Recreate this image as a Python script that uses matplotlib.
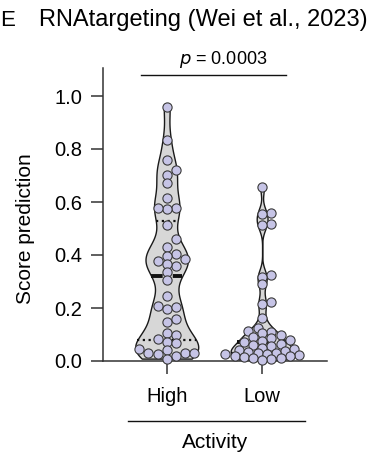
import numpy as np
import matplotlib
matplotlib.use("Agg")
import matplotlib.pyplot as plt

plt.rcParams['font.family'] = ['Liberation Sans', 'DejaVu Sans']

# ---------------- data ----------------
categories = ["High", "Low"]
high_scores = [0.959, 0.833, 0.759, 0.722, 0.702, 0.672, 0.614, 0.577, 0.572, 0.577,
               0.515, 0.460, 0.432, 0.405, 0.396, 0.386, 0.379, 0.358, 0.366, 0.336,
               0.305, 0.246, 0.208, 0.195, 0.202, 0.148, 0.157, 0.106, 0.097, 0.073,
               0.082, 0.067, 0.030, 0.040, 0.030, 0.032, 0.045, 0.028, 0.020, 0.009]
low_scores = [0.655, 0.557, 0.553, 0.517, 0.515, 0.323, 0.317, 0.289, 0.223, 0.214,
              0.164, 0.125, 0.114, 0.110, 0.106, 0.098, 0.090, 0.085, 0.079, 0.075,
              0.070, 0.065, 0.060, 0.056, 0.050, 0.045, 0.040, 0.038, 0.035, 0.032,
              0.030, 0.028, 0.025, 0.022, 0.020, 0.018, 0.015, 0.012, 0.010, 0.008, 0.005]
yticks = [0.0, 0.2, 0.4, 0.6, 0.8, 1.0]
title = "RNAtargeting (Wei et al., 2023)"
p_text = r"$p$ = 0.0003"
xlabel = "Activity"
ylabel = "Score prediction"

# ---------------- style ----------------
violin_fill = "#d7d7d7"
dot_fill = "#c6c4e6"
dot_edge = "#3a3a3a"
bandwidths = [0.052, 0.028]
half_width = 0.33

W, H, DPI = 3.8, 4.58, 100
fig = plt.figure(figsize=(W, H), dpi=DPI)
ax = fig.add_axes([103 / 380, 1 - 361 / 458, 224 / 380, (361 - 67.7) / 458])
ylim = (0, (361 - 67.7) / 265)
xlim = (-0.668, 1.68)
ax.set_xlim(*xlim)
ax.set_ylim(*ylim)

px_per_x = 224 / (xlim[1] - xlim[0])
px_per_y = (361 - 67.7) / (ylim[1] - ylim[0])


def kde(data, grid, bw):
    d = np.asarray(data)[:, None]
    return np.exp(-0.5 * ((grid[None, :] - d) / bw) ** 2).sum(axis=0)


def swarm(values, diam_px, step_frac, collide):
    vals = np.asarray(values)
    order = np.argsort(vals)
    placed = []
    xs = np.zeros(len(vals))
    step = diam_px * step_frac
    for i in order:
        ypx = vals[i] * px_per_y
        cands = [0.0]
        for k in range(1, 60):
            cands += [k * step, -k * step]
        for c in cands:
            ok = True
            for (px, py) in placed:
                if (px - c) ** 2 + (py - ypx) ** 2 < (diam_px * collide) ** 2 - 1e-6:
                    ok = False
                    break
            if ok:
                xs[i] = c
                placed.append((c, ypx))
                break
    return xs / px_per_x


groups = [high_scores, low_scores]
swarm_params = [(1.0, 0.85), (0.5, 0.72)]
for pos, (data, bw, sp) in enumerate(zip(groups, bandwidths, swarm_params)):
    data = np.asarray(data)
    grid = np.linspace(data.min(), data.max(), 400)
    dens = kde(data, grid, bw)
    scale = half_width / dens.max()
    w = dens * scale
    ax.fill_betweenx(grid, pos - w, pos + w, facecolor=violin_fill,
                     edgecolor="#1a1a1a", linewidth=1.0, zorder=2)
    q1, med, q3 = np.percentile(data, [25, 50, 75])
    for q, ls, lw in [(med, (0, (3.0, 2.6)), 2.8), (q1, (0, (1, 1.6)), 1.6), (q3, (0, (1, 1.6)), 1.6)]:
        wq = kde(data, np.array([q]), bw)[0] * scale
        ax.plot([pos - wq, pos + wq], [q, q], color="#111111", lw=lw,
                linestyle=ls, zorder=3, solid_capstyle="butt", dash_capstyle="butt")
    offs = swarm(data, 9.2, sp[0], sp[1])
    ax.scatter(pos + offs, data, s=44, facecolor=dot_fill, edgecolor=dot_edge,
               linewidth=0.8, zorder=4, clip_on=False)

# axes
for s in ["top", "right"]:
    ax.spines[s].set_visible(False)
for s in ["left", "bottom"]:
    ax.spines[s].set_linewidth(1.1)
    ax.spines[s].set_color("#333333")
ax.set_yticks(yticks)
ax.set_yticklabels([f"{t:.1f}" for t in yticks])
ax.set_xticks([0, 1])
ax.set_xticklabels(categories)
ax.tick_params(axis="both", length=9, width=1.1, color="#333333", labelsize=14.5,
               direction="out")
ax.tick_params(axis="y", pad=6)
ax.tick_params(axis="x", pad=10)
ax.set_ylabel(ylabel, fontsize=15)
ax.yaxis.set_label_coords((35 - 103) / 224, 0.5 / ylim[1])

# significance bracket
fig.add_artist(plt.Line2D([141 / 380, 286 / 380], [1 - 75 / 458, 1 - 75 / 458],
                          color="#111111", lw=1.0))
fig.text(223 / 380, 1 - 60 / 458, p_text, ha="center", va="center", fontsize=13)

# category line and x label
fig.add_artist(plt.Line2D([128 / 380, 305 / 380], [1 - 421 / 458, 1 - 421 / 458],
                          color="#111111", lw=1.0))
fig.text(215 / 380, 1 - 443 / 458, xlabel, ha="center", va="center", fontsize=15)

# title and panel letter
fig.text(203.5 / 380, 1 - 20 / 458, title, ha="center", va="center", fontsize=17)
fig.text(0.5 / 380, 1 - 20 / 458, "E", ha="left", va="center", fontsize=16)

fig.savefig("out.png", dpi=DPI)
